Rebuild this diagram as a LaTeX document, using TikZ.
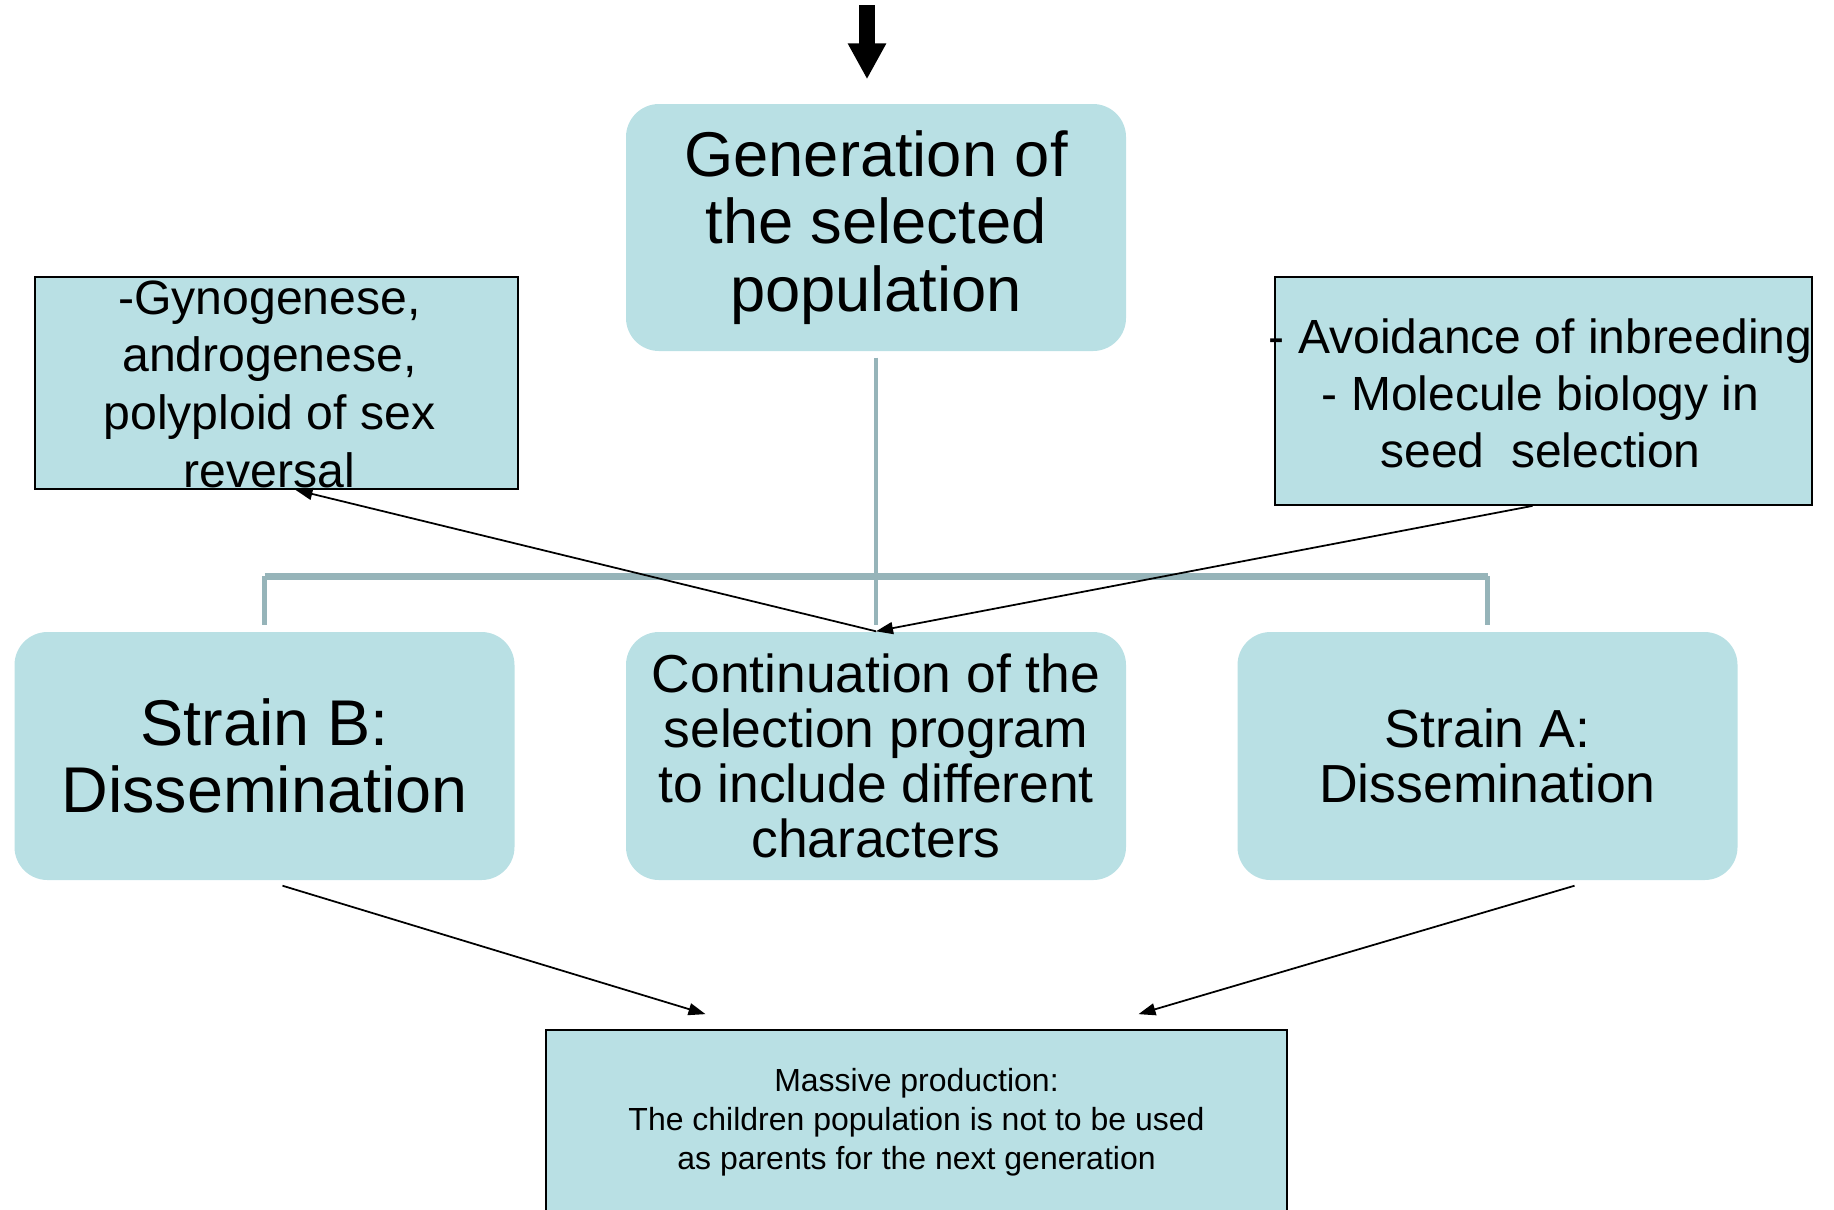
\documentclass[tikz,border=0pt]{standalone}
\usepackage{fontspec}
\setmainfont{Liberation Sans}
\usetikzlibrary{arrows.meta,calc}
\definecolor{boxfill}{RGB}{185,224,228}
\definecolor{treeline}{RGB}{150,180,185}

\begin{document}
\begin{tikzpicture}[
    roundbox/.style={fill=boxfill, rounded corners=0.33cm, minimum width=5cm, minimum height=2.48cm, inner sep=0pt, align=center},
    rectbox/.style={fill=boxfill, draw=black, line width=0.5pt, inner sep=0pt},
    boxtext/.style={align=center, inner sep=0pt},
    treebar/.style={draw=treeline, line width=2pt},
    treedrop/.style={draw=treeline, line width=1.4pt},
    thinarrow/.style={-{Triangle[length=0.17cm,width=0.12cm]}, line width=0.5pt},
    bigarrow/.style={-{Triangle[length=0.36cm,width=0.36cm]}, line width=4.3pt}
]

\pgfmathsetmacro{\rowy}{-7.56}
\pgfmathsetmacro{\barlift}{0.55}

\clip (0,0) rectangle (18.34,-12.09);

% Top box:
\node[roundbox, minimum height=2.47cm, font=\fontsize{18}{19.2}\selectfont] (gen) at (8.76,-2.275) {Generation of\\the selected\\population};

% Side boxes:
\node[rectbox, minimum width=4.83cm, minimum height=2.12cm] (gyno) at (2.765,-3.83) {};
\node[boxtext, font=\fontsize{13.7}{16.4}\selectfont] (gynotext) at ([xshift=-0.07cm,yshift=-0.01cm]gyno.center) {-Gynogenese,\\androgenese,\\polyploid of sex\\reversal};
\node[rectbox, minimum width=5.37cm, minimum height=2.28cm] (infos) at (15.435,-3.91) {};
\node[boxtext, font=\fontsize{13.65}{16.2}\selectfont] (infostext) at ([xshift=-0.03cm,yshift=-0.02cm]infos.center) {- Avoidance of inbreeding\\- Molecule biology in\\seed~~selection};

% Middle row:
\node[roundbox, font=\fontsize{18.4}{19.2}\selectfont] (strainb) at (2.645,\rowy) {Strain B:\\Dissemination};
\node[roundbox, font=\fontsize{15.2}{15.6}\selectfont] (cont) at (8.76,\rowy) {Continuation of the\\selection program\\to include different\\characters};
\node[roundbox, font=\fontsize{15.25}{15.6}\selectfont] (straina) at (14.875,\rowy) {Strain A:\\Dissemination};

% Bottom box:
\node[rectbox, minimum width=7.41cm, minimum height=1.84cm, align=center, font=\fontsize{9.1}{11.1}\selectfont] (mass) at (9.165,-11.22) {Massive production:\\The children population is not to be used\\as parents for the next generation};

% Tree lines:
\draw[treedrop] ([yshift=-0.06cm]gen.south) -- ([yshift=0.06cm]cont.north);
\draw[treebar] ([yshift=\barlift cm]strainb.north) -- ([yshift=\barlift cm]straina.north);
\draw[treedrop] ([yshift=\barlift cm]strainb.north) -- ([yshift=0.06cm]strainb.north);
\draw[treedrop] ([yshift=\barlift cm]straina.north) -- ([yshift=0.06cm]straina.north);

% Arrows:
\coordinate (input) at ([xshift=-0.09cm,yshift=0.98cm]gen.north);
\draw[bigarrow] (input) -- ([xshift=-0.09cm,yshift=0.24cm]gen.north);
\draw[thinarrow] (cont.north) -- ([xshift=0.19cm]gyno.south);
\draw[thinarrow] ([xshift=-0.11cm]infos.south) -- (cont.north);
\draw[thinarrow] ([xshift=0.18cm,yshift=-0.05cm]strainb.south) -- ([xshift=-2.11cm,yshift=0.15cm]mass.north);
\draw[thinarrow] ([xshift=0.87cm,yshift=-0.05cm]straina.south) -- ([xshift=2.22cm,yshift=0.15cm]mass.north);

\end{tikzpicture}
\end{document}
